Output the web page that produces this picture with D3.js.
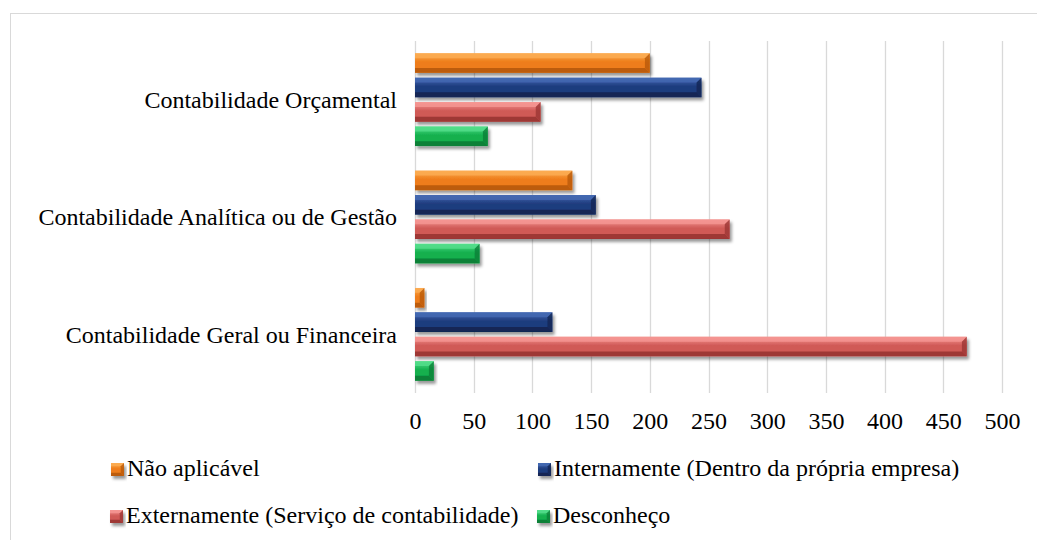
<!DOCTYPE html>
<html>
<head>
<meta charset="utf-8">
<script src="https://cdn.jsdelivr.net/npm/d3@7"></script>
<style>
  html, body { margin: 0; padding: 0; background: #fff; }
  svg { display: block; }
  svg text { font-family: 'Liberation Serif', 'Tinos', 'Times New Roman', 'DejaVu Serif', serif; }
</style>
</head>
<body>
<svg id="chart" width="1037" height="540"></svg>
<script>
// ── Data ──────────────────────────────────────────────────────────────────────
const categories   = ['Contabilidade Orçamental', 'Contabilidade Analítica ou de Gestão', 'Contabilidade Geral ou Financeira'];
const seriesNames  = ['Não aplicável', 'Internamente (Dentro da própria empresa)', 'Externamente (Serviço de contabilidade)', 'Desconheço'];
const naoAplicavel = [200, 134, 8];
const internamente = [244, 154, 117];
const externamente = [107, 268, 470];
const desconheco   = [62, 55, 16];
const xTicks       = [0, 50, 100, 150, 200, 250, 300, 350, 400, 450, 500];

const seriesValues = [naoAplicavel, internamente, externamente, desconheco];

// base / light / dark for the bevelled look
const palette = [
  { base: '#ee7d1a', light: '#fbab52', dark: '#b65808' },
  { base: '#1f3c7e', light: '#4468b2', dark: '#112450' },
  { base: '#d05a57', light: '#f59592', dark: '#983331' },
  { base: '#14b04e', light: '#52dd8a', dark: '#0a7c36' }
];

const FONT = "'Liberation Serif', 'Tinos', 'Times New Roman', 'DejaVu Serif', serif";

// ── Setup ─────────────────────────────────────────────────────────────────────
const svg = d3.select('#chart').attr('font-family', FONT);
const W = 1037, H = 540;

const defs = svg.append('defs');
const shadow = defs.append('filter').attr('id', 'shadow')
  .attr('x', '-10%').attr('y', '-30%').attr('width', '130%').attr('height', '180%');
shadow.append('feDropShadow')
  .attr('dx', 2).attr('dy', 3).attr('stdDeviation', 1.8)
  .attr('flood-color', '#000').attr('flood-opacity', 0.4);

palette.forEach((p, i) => {
  const g = defs.append('linearGradient').attr('id', `grad${i}`)
    .attr('x1', 0).attr('y1', 0).attr('x2', 0).attr('y2', 1);
  g.append('stop').attr('offset', '0%').attr('stop-color', p.light);
  g.append('stop').attr('offset', '45%').attr('stop-color', p.base);
  g.append('stop').attr('offset', '100%').attr('stop-color', p.base);
});

// outer frame (only top + left show inside the window)
svg.append('rect')
  .attr('x', 10.5).attr('y', 13.5)
  .attr('width', W + 20).attr('height', H + 20)
  .attr('fill', 'none').attr('stroke', '#d9d9d9').attr('stroke-width', 1);

// ── Scales ────────────────────────────────────────────────────────────────────
const plotTop = 41, plotBottom = 393;

const x = d3.scaleLinear().domain([0, 500]).range([415, 1002]);

const y = d3.scaleBand()
  .domain(categories)
  .range([plotTop, plotBottom])
  .padding(0);

const ySub = d3.scaleBand()
  .domain(d3.range(seriesNames.length))
  .range([12.3, y.bandwidth() - 12.3])
  .paddingInner(0.2);

// ── Gridlines ─────────────────────────────────────────────────────────────────
svg.append('g')
  .selectAll('line')
  .data(xTicks)
  .enter().append('line')
    .attr('x1', d => Math.round(x(d)) + 0.5)
    .attr('x2', d => Math.round(x(d)) + 0.5)
    .attr('y1', plotTop)
    .attr('y2', plotBottom)
    .attr('stroke', '#d9d9d9')
    .attr('stroke-width', 1.3);

// ── Bevelled bar helper ───────────────────────────────────────────────────────
function bevelBar(sel, x0, y0, w, h, i) {
  const p = palette[i];
  const x1 = x0 + w, y1 = y0 + h;
  const b = Math.min(5, h / 4, w / 2);
  const g = sel.append('g').attr('filter', 'url(#shadow)');
  g.append('rect')
    .attr('x', x0).attr('y', y0).attr('width', w).attr('height', h)
    .attr('fill', `url(#grad${i})`);
  // top face
  g.append('polygon')
    .attr('points', [[x0, y0], [x1, y0], [x1 - b, y0 + b], [x0, y0 + b]].join(' '))
    .attr('fill', p.light).attr('opacity', 0.85);
  // bottom face
  g.append('polygon')
    .attr('points', [[x0, y1], [x1, y1], [x1 - b, y1 - b], [x0, y1 - b]].join(' '))
    .attr('fill', p.dark).attr('opacity', 0.9);
  // right face
  g.append('polygon')
    .attr('points', [[x1, y0], [x1, y1], [x1 - b, y1 - b], [x1 - b, y0 + b]].join(' '))
    .attr('fill', p.dark).attr('opacity', 0.75);
}

// ── Bars ──────────────────────────────────────────────────────────────────────
const bars = svg.append('g');
categories.forEach((c, ci) => {
  seriesValues.forEach((vals, si) => {
    const x0 = x(0);
    const w  = x(vals[ci]) - x0;
    bevelBar(bars, x0, y(c) + ySub(si), w, ySub.bandwidth(), si);
  });
});

// ── Axes labels ───────────────────────────────────────────────────────────────
const xAxis = svg.append('g')
  .attr('transform', `translate(0,${plotBottom + 19})`)
  .call(d3.axisBottom(x).tickValues(xTicks).tickSize(0).tickPadding(0))
  .attr('font-family', FONT);
xAxis.select('.domain').remove();
xAxis.selectAll('text')
  .attr('dy', '0.7em')
  .attr('font-size', 24)
  .attr('fill', '#000');

const yAxis = svg.append('g')
  .attr('transform', `translate(397,0)`)
  .call(d3.axisLeft(y).tickSize(0).tickPadding(0))
  .attr('font-family', FONT);
yAxis.select('.domain').remove();
yAxis.selectAll('text')
  .attr('dy', '0.35em')
  .attr('font-size', 24)
  .attr('fill', '#000');

// ── Legend ────────────────────────────────────────────────────────────────────
const legendPos = [
  { mx: 111, my: 463 },
  { mx: 538, my: 463 },
  { mx: 110, my: 510 },
  { mx: 537, my: 510 }
];
const legend = svg.append('g');
seriesNames.forEach((name, i) => {
  const lp = legendPos[i];
  bevelBar(legend, lp.mx, lp.my, 13, 13, i);
  legend.append('text')
    .attr('x', lp.mx + 16)
    .attr('y', lp.my + 13)
    .attr('font-size', 24)
    .attr('fill', '#000')
    .text(name);
});
</script>
</body>
</html>
